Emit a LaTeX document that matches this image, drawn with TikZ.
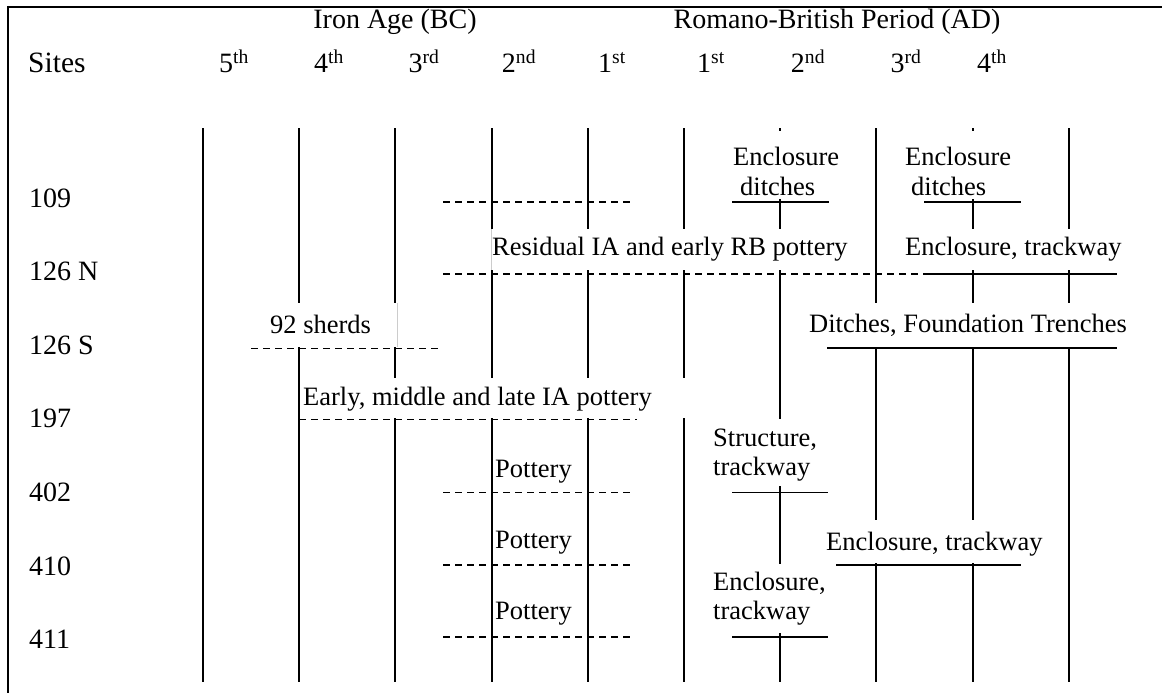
\documentclass[tikz,border=0pt]{standalone}
\usepackage{fontspec}
\setmainfont{Liberation Serif}
\newcommand\hdrfont{\fontsize{28}{30}\selectfont}
\newcommand\sitefont{\fontsize{29.5}{31}\selectfont}
\newcommand\lblfont{\fontsize{26.5}{28}\selectfont}
\begin{document}
\begin{tikzpicture}[x=1pt,y=-1pt,
  vline/.style={line width=1.9pt},
  solidbar/.style={line width=1.9pt},
  dashbar/.style={line width=1.8pt,dash pattern=on 7pt off 5pt},
  frame/.style={line width=1.2pt},
  boxedge/.style={line width=0.6pt,black!20},
  hdr/.style={font=\hdrfont,anchor=base,inner sep=0pt},
  rowlbl/.style={font=\hdrfont,anchor=base west,inner sep=0pt},
  lbl/.style={font=\lblfont,anchor=base west,inner sep=0pt}]
\useasboundingbox (0,0) rectangle (1162,693);
\fill[white] (0,0) rectangle (1162,693);
% frame
\draw[frame] (8,7) -- (1162,7);
\draw[line width=2.4pt] (8,7) -- (175,7);
\draw[line width=2.4pt] (1096,7) -- (1162,7);
\draw[line width=1.8pt] (8,6) -- (8,693);
% header
\node[hdr] (ia) at (395,29) {Iron Age (BC)};
\node[hdr] (rb) at (837,29) {Romano-British Period (AD)};
\node[rowlbl,font=\sitefont] (sites) at (28,73) {Sites};
\node[hdr] (b5) at (234,73) {5\textsuperscript{th}};
\node[hdr] (b4) at (329,73) {4\textsuperscript{th}};
\node[hdr] (b3) at (424,73) {3\textsuperscript{rd}};
\node[hdr] (b2) at (519,73) {2\textsuperscript{nd}};
\node[hdr] (b1) at (612,73) {1\textsuperscript{st}};
\node[hdr] (a1) at (711,73) {1\textsuperscript{st}};
\node[hdr] (a2) at (808,73) {2\textsuperscript{nd}};
\node[hdr] (a3) at (906,73) {3\textsuperscript{rd}};
\node[hdr] (a4) at (992,73) {4\textsuperscript{th}};
% row labels
\node[rowlbl] (r109) at (29,207) {109};
\node[rowlbl] (r126n) at (29,280.6) {126 N};
\node[rowlbl] (r126s) at (29,354.2) {126 S};
\node[rowlbl] (r197) at (29,427.8) {197};
\node[rowlbl] (r402) at (29,501.4) {402};
\node[rowlbl] (r410) at (29,575) {410};
\node[rowlbl] (r411) at (29,648.6) {411};
% vertical period lines
\foreach \x/\segs in {
  203/{128/682},
  299.2/{128/303,347/682},
  395.4/{128/303,347/378,418/682},
  491.6/{128/229,270/378,418/682},
  587.8/{128/229,270/378,418/682},
  684/{128/229,270/378,418/682},
  780.2/{128/131,199/229,270/419,486/564,633/682},
  876.4/{128/303,347/520,563/682},
  972.6/{128/131,199/229,270/303,347/520,563/682},
  1068.8/{128/229,270/303,347/682}}{
  \foreach \ya/\yb in \segs { \draw[vline] (\x,\ya) -- (\x,\yb); }
}
% faint label box edges
\draw[boxedge] (491.6,229) -- (491.6,270);
\draw[boxedge] (396.8,303) -- (396.8,347);
% row 109
\draw[dashbar] (443,201.7) -- (632,201.7);
\node[lbl] (e1a) at (733,165) {Enclosure};
\node[lbl] (e1b) at (740,195) {ditches};
\draw[solidbar] (732,201.7) -- (829,201.7);
\node[lbl] (e2a) at (905,165) {Enclosure};
\node[lbl] (e2b) at (911,195) {ditches};
\draw[solidbar] (924,201.7) -- (1021,201.7);
% row 126 N
\node[lbl] (res) at (492,255) {Residual IA and early RB pottery};
\node[lbl] (et1) at (905,255) {Enclosure, trackway};
\draw[dashbar] (443,274) -- (928,274);
\draw[solidbar] (924,274) -- (1117,274);
% row 126 S
\node[lbl] (sh) at (270,333.5) {92 sherds};
\draw[dashbar] (251,348.4) -- (440,348.4);
\node[lbl] (dft) at (809,332) {Ditches, Foundation Trenches};
\draw[solidbar] (827,348.4) -- (1117,348.4);
% row 197
\node[lbl] (emli) at (303,405) {Early, middle and late IA pottery};
\draw[dashbar] (299.2,419.4) -- (637,419.4);
% row 402
\node[lbl] (p402) at (495,477) {Pottery};
\draw[dashbar] (443,492.5) -- (632,492.5);
\node[lbl] (st1) at (713,446) {Structure,};
\node[lbl] (st2) at (713,475.5) {trackway};
\draw[solidbar] (732,492.5) -- (828,492.5);
% row 410
\node[lbl] (p410) at (495,548.5) {Pottery};
\draw[dashbar] (443,565) -- (632,565);
\node[lbl] (et2) at (826,550) {Enclosure, trackway};
\draw[solidbar] (836,565) -- (1021,565);
% row 411
\node[lbl] (p411) at (495,619.5) {Pottery};
\draw[dashbar] (443,637) -- (632,637);
\node[lbl] (et3a) at (713,590) {Enclosure,};
\node[lbl] (et3b) at (713,619.5) {trackway};
\draw[solidbar] (732,637) -- (828,637);
\end{tikzpicture}
\end{document}
